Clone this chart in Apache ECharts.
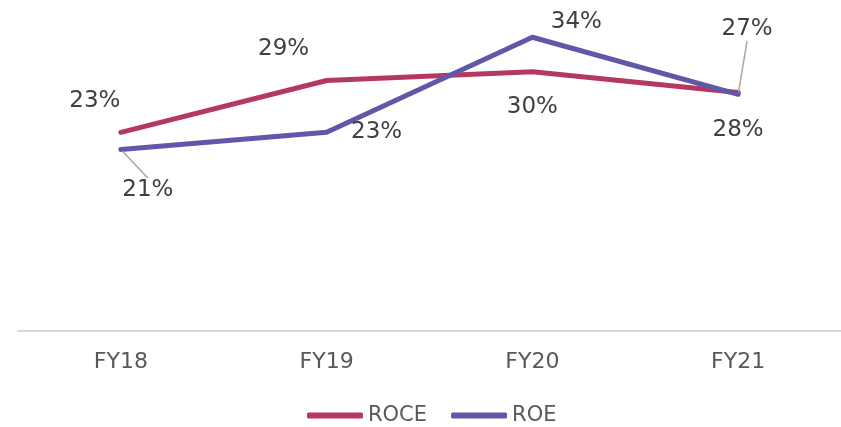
<!DOCTYPE html>
<html>
<head>
<meta charset="utf-8">
<script src="https://cdn.jsdelivr.net/npm/echarts@6/dist/echarts.min.js"></script>
<style>html,body{margin:0;padding:0;background:#fff}#c{width:841px;height:427px}</style>
</head>
<body>
<div id="c"></div>
<script>
var categories = ['FY18', 'FY19', 'FY20', 'FY21'];
var roce = [23, 29, 30, 27.6];
var roe = [21, 23, 34, 27.4];
var roceLabels = ['23%', '29%', '30%', '28%'];
var roeLabels = ['21%', '23%', '34%', '27%'];

// label placement (styling only)
var labelOffsets = [
  [[-26, -31], [-43, -31], [0, 35], [0, 37]],
  [[27, 40], [50, 0], [44, -15], [9, -65]]
];
var leaderLines = [
  [false, false, false, false],
  [true, false, false, true]
];

function buildData(vals, si) {
  return vals.map(function (v, i) {
    return { value: v, labelLine: { show: leaderLines[si][i] } };
  });
}

var chart = echarts.init(document.getElementById('c'));
var labelFont = 'DejaVu Sans';
function seriesOf(name, vals, labels, color, si) {
  return {
    name: name,
    type: 'line',
    data: buildData(vals, si),
    symbol: 'circle',
    symbolSize: 4,
    showSymbol: true,
    itemStyle: { color: color },
    lineStyle: { color: color, width: 5, cap: 'round', join: 'round' },
    label: {
      show: true,
      position: 'inside',
      fontFamily: labelFont,
      fontSize: 23,
      color: '#404040',
      formatter: function (p) { return labels[p.dataIndex]; }
    },
    labelLine: { show: false, lineStyle: { color: '#a6a6a6', width: 1.5 } },
    emphasis: { disabled: true },
    z: si === 1 ? 3 : 2
  };
}

chart.setOption({
  animation: false,
  grid: { left: 18, right: 0, top: 20, bottom: 96 },
  legend: {
    left: 307,
    top: 405,
    padding: 0,
    icon: 'roundRect',
    itemWidth: 56,
    itemHeight: 6,
    itemGap: 24,
    textStyle: { fontFamily: labelFont, fontSize: 21, color: '#595959' },
    data: ['ROCE', 'ROE']
  },
  xAxis: {
    type: 'category',
    data: categories,
    boundaryGap: true,
    axisLine: { lineStyle: { color: '#d9d9d9', width: 2 } },
    axisTick: { show: false },
    axisLabel: { fontFamily: labelFont, fontSize: 22, color: '#595959', margin: 20 }
  },
  yAxis: {
    type: 'value',
    min: 0,
    max: 36,
    show: false,
    splitLine: { show: false }
  },
  labelLayout: function (params) {
    var o = labelOffsets[params.seriesIndex][params.dataIndex];
    return { dx: o[0], dy: o[1] };
  },
  series: [
    seriesOf('ROCE', roce, roceLabels, '#b5395f', 0),
    seriesOf('ROE', roe, roeLabels, '#5f58a8', 1)
  ]
});
</script>
</body>
</html>
